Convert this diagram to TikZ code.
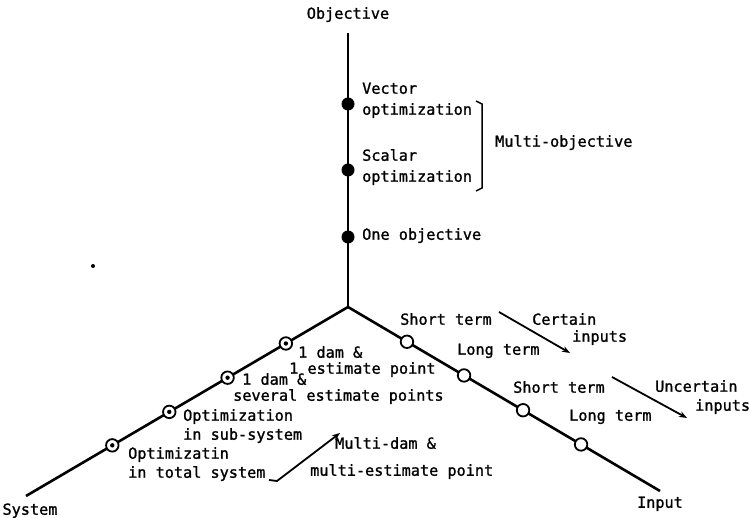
\documentclass[tikz,border=0pt]{standalone}
\usepackage{fontspec}
\newfontfamily\tw[FakeBold=1.2]{DejaVu Sans Mono}
\usetikzlibrary{calc,arrows.meta}
\begin{document}
\begin{tikzpicture}[x=1pt,y=-1pt,
  axis/.style={line width=2.6pt},
  fdot/.style={circle,fill=black,inner sep=0,minimum size=13pt},
  odot/.style={circle,draw=black,fill=white,line width=1.8pt,inner sep=0,minimum size=12.5pt},
  cdot/.style={odot,path picture={\fill[black] (path picture bounding box.center) circle (2.2pt);}},
  lbl/.style={anchor=west,inner sep=0,font=\tw\fontsize{15.2}{16}\selectfont,text height=0.75em,text depth=0.2em},
  ctr/.style={lbl,anchor=center},
  ptr/.style={line width=1.8pt,-{Stealth[length=8pt,width=6pt]}},
  brk/.style={line width=1.5pt}
]
\useasboundingbox (0,0) rectangle (750,518);

% axes
\coordinate (O) at (348,307);
\coordinate (T) at (348,33);
\coordinate (S) at (26,496);
\coordinate (I) at (660,491);
\draw[axis] (O) -- (T);
\draw[axis] (O) -- (S);
\draw[axis] (O) -- (I);

% stray dot
\fill (93,266) circle (2pt);

% axis titles
\node[ctr] (obj) at (348,16) {Objective};
\node[ctr] (sys) at (30,512) {System};
\node[ctr] (inp) at (660,505) {Input};

% objective axis points
\node[fdot] (d1) at (348,104) {};
\node[fdot] (d2) at (348,170) {};
\node[fdot] (d3) at (348,237) {};
\node[lbl] (vec1) at (362,91) {Vector};
\node[lbl] (vec2) at (362,112) {optimization};
\node[lbl] (sca1) at (362,158) {Scalar};
\node[lbl] (sca2) at (362,179) {optimization};
\node[lbl] (one) at (362,237) {One objective};
\coordinate (b1) at (476,101);
\coordinate (b2) at (482,104);
\coordinate (b3) at (482,188);
\coordinate (b4) at (476,191);
\draw[brk] (b1) -- (b2) -- (b3) -- (b4);
\node[lbl] (mobj) at (495,144) {Multi-objective};

% system axis points
\node[cdot] (s1) at ($(O)!0.193!(S)$) {};
\node[cdot] (s2) at ($(O)!0.374!(S)$) {};
\node[cdot] (s3) at ($(O)!0.555!(S)$) {};
\node[cdot] (s4) at ($(O)!0.732!(S)$) {};
\node[lbl] (l1a) at (298,355) {1 dam \&};
\node[lbl] (l1b) at (289,371) {1 estimate point};
\node[lbl] (l2a) at (242,382) {1 dam \&};
\node[lbl] (l2b) at (233,398) {several estimate points};
\node[lbl] (l3a) at (183,418) {Optimization};
\node[lbl] (l3b) at (183,437) {in sub-system};
\node[lbl] (l4a) at (128,456) {Optimizatin};
\node[lbl] (l4b) at (128,475) {in total system};
\node[lbl] (md1) at (335,446) {Multi-dam \&};
\node[lbl] (md2) at (310,473) {multi-estimate point};
\coordinate (a1) at (269,480);
\coordinate (a2) at (277,481);
\coordinate (a3) at (340,433);
\draw[ptr] (a1) -- (a2) -- (a3);

% input axis points
\node[odot] (i1) at ($(O)!0.189!(I)$) {};
\node[odot] (i2) at ($(O)!0.372!(I)$) {};
\node[odot] (i3) at ($(O)!0.561!(I)$) {};
\node[odot] (i4) at ($(O)!0.747!(I)$) {};
\node[lbl] (st1) at (400,322) {Short term};
\node[lbl] (lt1) at (457,352) {Long term};
\node[lbl] (st2) at (513,390) {Short term};
\node[lbl] (lt2) at (569,418) {Long term};
\node[lbl] (cer1) at (532,322) {Certain};
\node[lbl] (cer2) at (572,339) {inputs};
\node[lbl] (unc1) at (655,389) {Uncertain};
\node[lbl] (unc2) at (695,408) {inputs};
\coordinate (c1) at (499,312);
\coordinate (c2) at (570,353);
\coordinate (u1) at (612,377);
\coordinate (u2) at (687,418);
\draw[ptr] (c1) -- (c2);
\draw[ptr] (u1) -- (u2);
\end{tikzpicture}
\end{document}
